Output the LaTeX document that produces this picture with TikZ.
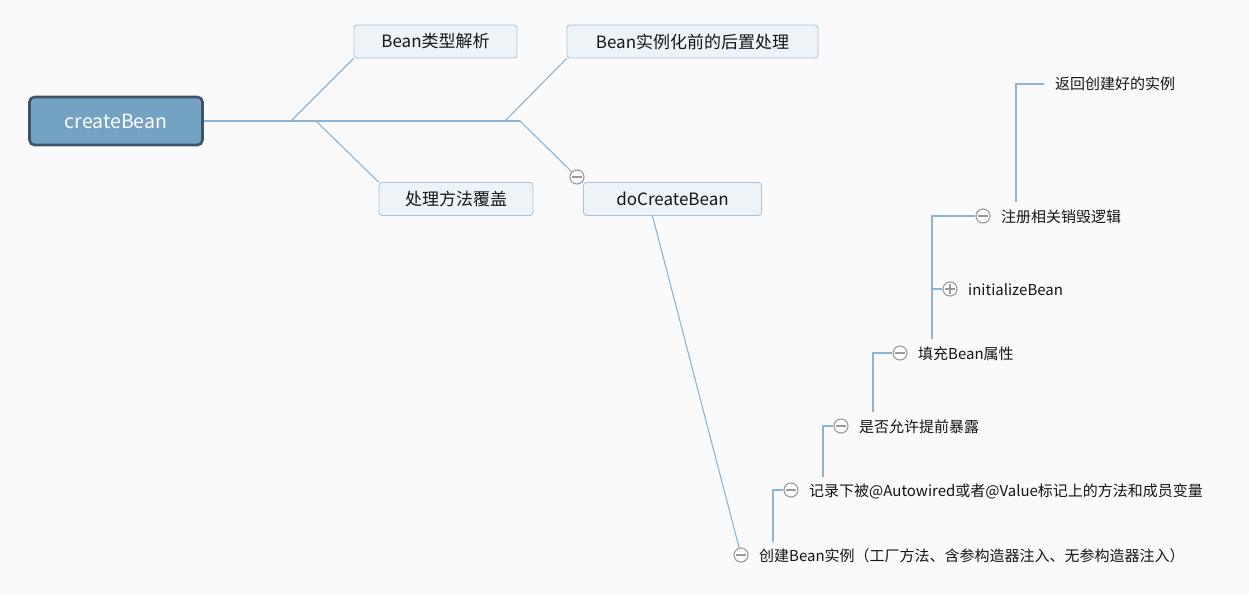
\documentclass[tikz,border=0pt]{standalone}
\usepackage{fontspec}
\setmainfont{Noto Sans CJK SC}
\usepackage{xcolor}
\usepackage{tikz}
\definecolor{pagebg}{HTML}{FAFAFA}
\definecolor{linkblue}{HTML}{8DB5D3}
\definecolor{rootfill}{HTML}{73A2C2}
\definecolor{rootedge}{HTML}{3E5466}
\definecolor{topicfill}{HTML}{EEF3F7}
\definecolor{topicedge}{HTML}{A6C4DB}
\definecolor{foldgray}{HTML}{9A9A9A}
\definecolor{inkgray}{HTML}{151515}
\tikzset{
  link/.style={draw=linkblue, line width=1.1pt},
  topic/.style={draw=topicedge, fill=topicfill, rounded corners=3pt, line width=0.9pt,
    minimum height=33pt, text=inkgray, font=\fontsize{17}{19}\selectfont},
  leaf/.style={anchor=west, text=inkgray, inner sep=2pt, font=\fontsize{15}{17}\selectfont},
  fold/.style={circle, draw=foldgray, fill=white, line width=1.1pt, minimum size=14pt, inner sep=0pt},
  minus/.style={fold, path picture={\draw[foldgray, line width=1.1pt]
    ([xshift=-5pt]path picture bounding box.center) -- ([xshift=5pt]path picture bounding box.center);}},
  plus/.style={fold, path picture={\draw[foldgray, line width=1.1pt]
    ([xshift=-5pt]path picture bounding box.center) -- ([xshift=5pt]path picture bounding box.center)
    ([yshift=-5pt]path picture bounding box.center) -- ([yshift=5pt]path picture bounding box.center);}}
}
\begin{document}
\begin{tikzpicture}[x=1pt, y=-1pt]
          \fill[pagebg] (0,0) rectangle (1249,595);
          \useasboundingbox (0,0) rectangle (1249,595);

          \node[rounded corners=5pt, draw=rootedge, line width=2.6pt, fill=rootfill, text=white,
            minimum width=173pt, minimum height=48pt, font=\fontsize{19.5}{21}\selectfont] (root) at (116,121) {createBean};

          \foreach \x\y\w\t [count=\i from 1] in {435.5/41.5/163/Bean类型解析, 692.5/41.5/251/Bean实例化前的后置处理,
                                                 456/199/154/处理方法覆盖, 672.5/199/178/doCreateBean}{%
            \node[topic, minimum width=\w pt] (t\i) at (\x, \y) {\t};
          }

          \foreach \x\y\n in {291/j1, 316/j2, 505/j3, 520/j4}{%
            \coordinate (\n) at (\x, 121);
          }
          \draw[link] (root.east) -- (j4);
          \draw[link] (j1) -- (t1.south west);
          \draw[link] (j2) -- (t3.north west);
          \draw[link] (j3) -- (t2.south west);

          \node[minus] (m0) at (577,177) {};
          \draw[link] (j4) -- (m0);

          \node[minus] (m1) at (741,555) {};
          \node[minus] (m2) at (791,490) {};
          \node[minus] (m3) at (841,426) {};
          \node[minus] (m4) at (900,353) {};
          \node[plus]  (m5) at (950,289) {};
          \node[minus] (m6) at (983,216) {};

          \node[leaf] (l1) at (757,556) {创建Bean实例（工厂方法、含参构造器注入、无参构造器注入）};
          \node[leaf] (l2) at (807,491) {记录下被@Autowired或者@Value标记上的方法和成员变量};
          \node[leaf] (l3) at (857,427) {是否允许提前暴露};
          \node[leaf] (l4) at (916,354) {填充Bean属性};
          \node[leaf] (l5) at (966,290) {initializeBean};
          \node[leaf] (l6) at (999,217) {注册相关销毁逻辑};
          \node[leaf] (l7) at (1053,84) {返回创建好的实例};

          \draw[link] ([xshift=-20pt]t4.south) -- (m1);

          \coordinate (s2) at (773,542);
          \coordinate (s3) at (823,477);
          \coordinate (s4) at (873,412);
          \coordinate (s5) at (932,339);
          \coordinate (s6) at (1016,202);
          \coordinate (e7) at ([xshift=-9pt]l7.west);

          \draw[link] (s2) |- (m2.west);
          \draw[link] (s3) |- (m3.west);
          \draw[link] (s4) |- (m4.west);
          \draw[link] (s5) |- (m6.west);
          \draw[link] (s5) |- (m5.west);
          \draw[link] (s6) |- (e7);
        \end{tikzpicture}
\end{document}
